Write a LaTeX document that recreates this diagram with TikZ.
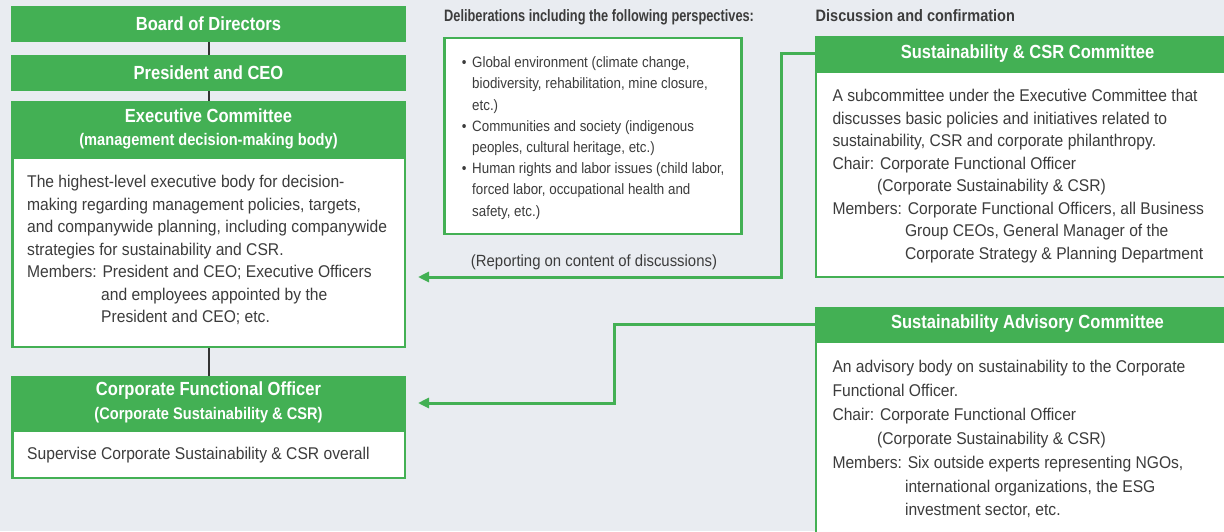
\documentclass[tikz,border=0pt]{standalone}
\usepackage{fontspec}
\setmainfont{Liberation Sans}[FakeStretch=0.92]
\newfontfamily\hdfont{Liberation Sans}[FakeStretch=0.87]
\newfontfamily\hdfontb{Liberation Sans}[FakeStretch=0.88]
\newfontfamily\hdfontc{Liberation Sans}[FakeStretch=0.775]
\newfontfamily\midfont{Liberation Sans}[FakeStretch=0.89]
\usetikzlibrary{arrows.meta}
\definecolor{bg}{RGB}{233,236,241}
\definecolor{grn}{RGB}{67,176,84}
\definecolor{txt}{RGB}{60,60,60}
\definecolor{conn}{RGB}{51,51,51}
\tikzset{
  hdr/.style={fill=grn, draw=none, inner sep=0pt, text=white, align=center,
    font=\hdfont\bfseries\fontsize{19}{22.7}\selectfont},
  bodybox/.style={fill=white, draw=grn, line width=2.5pt, inner sep=0pt},
  bodytxt/.style={anchor=north west, inner sep=0pt, align=left, text=txt,
    font=\fontsize{17}{22.5}\selectfont},
  gline/.style={draw=grn, line width=3pt},
  garrow/.style={gline, -{Triangle[length=11pt,width=10pt]}},
  bline/.style={draw=conn, line width=2pt},
  titletxt/.style={anchor=base west, inner sep=0pt, text=txt,
    font=\hdfontb\bfseries\fontsize{16.5}{19}\selectfont},
}
\begin{document}
\begin{tikzpicture}[x=1pt,y=-1pt]
\path[use as bounding box, fill=bg] (0,0) rectangle (1224,531);
\clip (0,0) rectangle (1224,531);

% ---------- left column ----------
\node[bodybox, minimum width=392.5pt, minimum height=188.8pt] (exec) at (208.5,252.6) {};
\node[hdr, minimum width=395pt, minimum height=36pt] (board) at (208.5,24) {Board of Directors};
\node[hdr, minimum width=395pt, minimum height=36pt] (pres) at (208.5,73) {President and CEO};
\node[hdr, minimum width=395pt, minimum height=56pt] (exech) at (208.5,129)
  {Executive Committee\\{\fontsize{16.8}{20}\selectfont (management decision-making body)}};
\node[bodytxt] (exect) at (27,175) {The highest-level executive body for decision-\\
making regarding management policies, targets,\\
and companywide planning, including companywide\\
strategies for sustainability and CSR.\\
Members: President and CEO; Executive Officers\\
\phantom{Members:}\hspace{4.5pt}and employees appointed by the\\
\phantom{Members:}\hspace{4.5pt}President and CEO; etc.};

\node[bodybox, minimum width=392.5pt, minimum height=47.5pt] (cfo) at (208.5,454) {};
\node[hdr, minimum width=395pt, minimum height=53pt, font=\hdfont\bfseries\fontsize{19}{24.3}\selectfont] (cfoh) at (208.5,402.5)
  {Corporate Functional Officer\\{\fontsize{16.8}{20}\selectfont (Corporate Sustainability \& CSR)}};
\node[bodytxt] (cfot) at (27,447) {Supervise Corporate Sustainability \& CSR overall};

\draw[bline] (board.south) -- (pres.north);
\draw[bline] (pres.south) -- (exech.north);
\draw[bline] (exec.south) -- (cfoh.north);

% ---------- middle ----------
\node[titletxt, font=\hdfontc\bfseries\fontsize{16.5}{19}\selectfont] (delib) at (444,21.5) {Deliberations including the following perspectives:};
\node[bodybox, minimum width=296.9pt, minimum height=195.8pt] (persp) at (593,135.85) {};
\node[bodytxt, font=\midfont\fontsize{15}{21.2}\selectfont] (perspt) at (461.7,56.7)
{\makebox[10.3pt][l]{•}Global environment (climate change,\\
\hspace*{10.3pt}biodiversity, rehabilitation, mine closure,\\
\hspace*{10.3pt}etc.)\\
\makebox[10.3pt][l]{•}Communities and society (indigenous\\
\hspace*{10.3pt}peoples, cultural heritage, etc.)\\
\makebox[10.3pt][l]{•}Human rights and labor issues (child labor,\\
\hspace*{10.3pt}forced labor, occupational health and\\
\hspace*{10.3pt}safety, etc.)};
\node[anchor=base, inner sep=0pt, text=txt, font=\fontsize{16.2}{20}\selectfont] (report) at (594,266)
  {(Reporting on content of discussions)};

% ---------- right column ----------
\node[titletxt] (disc) at (815.5,21.5) {Discussion and confirmation};
\node[bodybox, minimum width=428.75pt, minimum height=205pt] (csr) at (1030.6,174.5) {};
\node[hdr, minimum width=425pt, minimum height=35pt] (csrh) at (1027.5,53.5) {Sustainability \& CSR Committee};
\node[bodytxt] (csrt) at (832.3,89.3) {A subcommittee under the Executive Committee that\\
discusses basic policies and initiatives related to\\
sustainability, CSR and corporate philanthropy.\\
Chair: Corporate Functional Officer\\
\phantom{Chair:}\hspace{3pt}(Corporate Sustainability \& CSR)\\
Members: Corporate Functional Officers, all Business\\
\phantom{Members:}\hspace{3pt}Group CEOs, General Manager of the\\
\phantom{Members:}\hspace{3pt}Corporate Strategy \& Planning Department};

\node[bodybox, minimum width=428.75pt, minimum height=220pt] (adv) at (1030.6,452) {};
\node[hdr, minimum width=425pt, minimum height=34pt] (advh) at (1027.5,324) {Sustainability Advisory Committee};
\node[bodytxt, font=\fontsize{17}{23.9}\selectfont] (advt) at (832.3,360) {An advisory body on sustainability to the Corporate\\
Functional Officer.\\
Chair: Corporate Functional Officer\\
\phantom{Chair:}\hspace{3pt}(Corporate Sustainability \& CSR)\\
Members: Six outside experts representing NGOs,\\
\phantom{Members:}\hspace{3pt}international organizations, the ESG\\
\phantom{Members:}\hspace{3pt}investment sector, etc.};

% ---------- green connectors ----------
\coordinate (t1) at (781,277);
\coordinate (r1) at (418,277);
\coordinate (t2) at (614,403);
\coordinate (r2) at (418,403);
\draw[garrow] (csrh.west) -| (t1) -- (r1);
\draw[garrow] (advh.west) -| (t2) -- (r2);
\end{tikzpicture}
\end{document}
